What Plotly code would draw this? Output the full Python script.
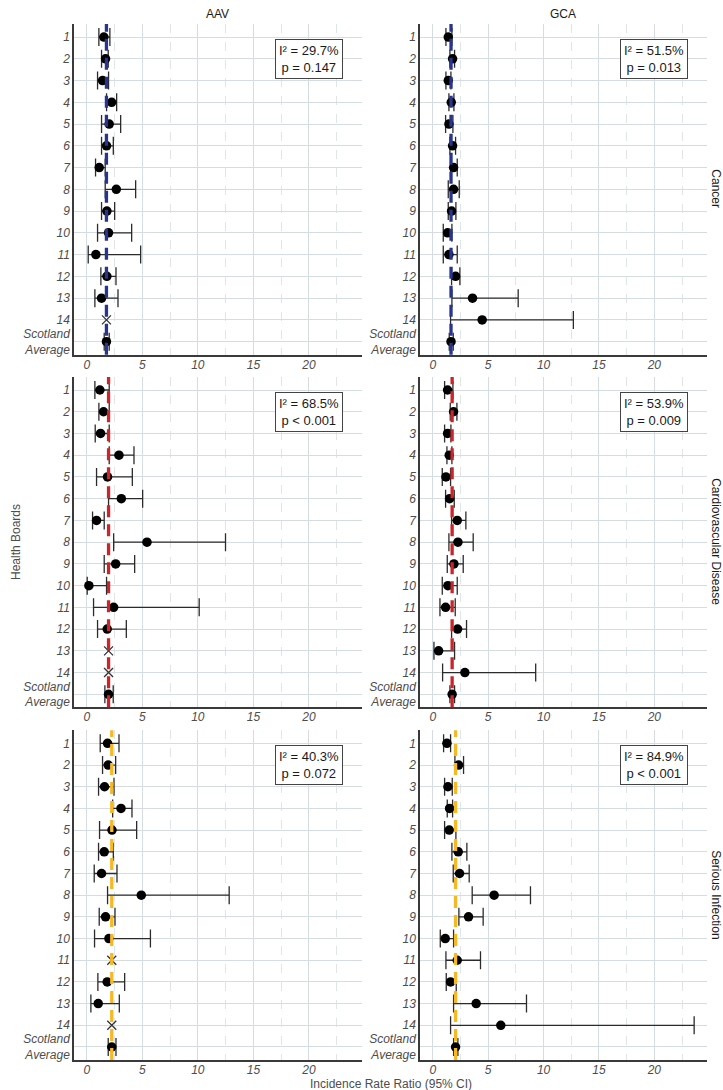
import plotly.graph_objects as go

# Health boards (rows) and the facets of the grid
boards = [str(i) for i in range(1, 15)] + ["Scotland<br>Average"]
diseases = ["AAV", "GCA"]
outcomes = ["Cancer", "Cardiovascular Disease", "Serious Infection"]
outcome_colors = ["#28358c", "#c9252c", "#f6b824"]

# Incidence rate ratios with 95% CI per health board; the last entry is the
# Scotland average. None marks boards without an estimate.
aav_cancer_irr = [1.54, 1.69, 1.42, 2.24, 2.02, 1.78, 1.12, 2.66, 1.81, 1.96, 0.82, 1.81, 1.33, None, 1.77]
aav_cancer_lo = [1.09, 1.33, 0.97, 1.78, 1.33, 1.33, 0.79, 1.66, 1.33, 0.97, 0.13, 1.27, 0.73, None, 1.57]
aav_cancer_hi = [2.08, 1.93, 1.96, 2.69, 3.05, 2.39, 1.66, 4.40, 2.51, 4.04, 4.85, 2.63, 2.81, None, 2.02]

gca_cancer_irr = [1.40, 1.79, 1.40, 1.67, 1.46, 1.79, 1.88, 1.88, 1.70, 1.34, 1.46, 2.06, 3.59, 4.46, 1.65]
gca_cancer_lo = [1.19, 1.55, 1.19, 1.46, 1.16, 1.55, 1.61, 1.40, 1.40, 0.95, 0.95, 1.70, 1.73, 1.61, 1.49]
gca_cancer_hi = [1.73, 1.97, 1.64, 1.91, 1.82, 2.06, 2.21, 2.39, 2.09, 1.73, 2.21, 2.45, 7.71, 12.69, 1.85]

aav_cvd_irr = [1.18, 1.51, 1.24, 2.90, 1.87, 3.11, 0.88, 5.42, 2.60, 0.19, 2.42, 1.84, None, None, 1.96]
aav_cvd_lo = [0.73, 1.09, 0.76, 2.02, 0.88, 1.96, 0.52, 2.42, 1.57, 0.04, 0.61, 0.97, None, None, 1.63]
aav_cvd_hi = [2.02, 2.02, 2.02, 4.25, 4.10, 5.03, 1.57, 12.49, 4.31, 1.78, 10.12, 3.56, None, None, 2.38]

gca_cvd_irr = [1.34, 1.88, 1.34, 1.49, 1.19, 1.52, 2.21, 2.27, 1.91, 1.37, 1.16, 2.24, 0.53, 2.90, 1.75]
gca_cvd_lo = [1.07, 1.58, 1.07, 1.28, 0.86, 1.16, 1.70, 1.46, 1.31, 0.86, 0.65, 1.70, 0.11, 0.89, 1.55]
gca_cvd_hi = [1.82, 2.18, 1.64, 1.73, 1.61, 1.94, 2.99, 3.65, 2.75, 2.21, 2.03, 3.05, 1.97, 9.29, 1.97]

aav_inf_irr = [1.87, 1.93, 1.60, 3.08, 2.27, 1.57, 1.33, 4.91, 1.69, 1.99, None, 1.84, 1.03, None, 2.25]
aav_inf_lo = [1.21, 1.42, 1.06, 2.33, 1.15, 1.06, 0.67, 1.87, 1.12, 0.70, None, 1.00, 0.37, None, 1.93]
aav_inf_hi = [2.90, 2.60, 2.45, 4.07, 4.49, 2.39, 2.72, 12.82, 2.54, 5.73, None, 3.41, 2.93, None, 2.63]

gca_inf_irr = [1.28, 2.33, 1.37, 1.52, 1.49, 2.30, 2.42, 5.54, 3.23, 1.13, 2.21, 1.61, 3.92, 6.14, 2.06]
gca_inf_lo = [0.98, 2.00, 1.07, 1.31, 1.07, 1.73, 1.85, 3.56, 2.36, 0.68, 1.19, 1.22, 1.88, 1.61, 1.88]
gca_inf_hi = [1.61, 2.78, 1.76, 1.79, 2.09, 3.08, 3.29, 8.82, 4.55, 1.88, 4.31, 2.12, 8.46, 23.59, 2.27]

# Heterogeneity statistics per panel
i2_values = [["29.7%", "51.5%"], ["68.5%", "53.9%"], ["40.3%", "84.9%"]]
p_values = [["p = 0.147", "p = 0.013"], ["p < 0.001", "p = 0.009"], ["p = 0.072", "p < 0.001"]]

panels = [
    [(aav_cancer_irr, aav_cancer_lo, aav_cancer_hi), (gca_cancer_irr, gca_cancer_lo, gca_cancer_hi)],
    [(aav_cvd_irr, aav_cvd_lo, aav_cvd_hi), (gca_cvd_irr, gca_cvd_lo, gca_cvd_hi)],
    [(aav_inf_irr, aav_inf_lo, aav_inf_hi), (gca_inf_irr, gca_inf_lo, gca_inf_hi)],
]

FONT = "Liberation Sans, Arial, sans-serif"
GRID = "#d5dce2"
MINOR_GRID = "#e0e5ea"
AXIS_LINE = "#3a3a3a"
TICK_COLOR = "#4d4d4d"

col_domains = [[0.0, 0.4545], [0.5466, 1.0]]
row_domains = [[0.6808, 1.0], [0.3404, 0.6593], [0.0, 0.3182]]
x_range = [-1.15, 24.75]
y_pos = list(range(len(boards)))

fig = go.Figure()
layout = {}
annotations = []
shapes = []

for r, outcome in enumerate(outcomes):
    color = outcome_colors[r]
    for c, disease in enumerate(diseases):
        idx = r * 2 + c + 1
        sfx = "" if idx == 1 else str(idx)
        xref, yref = "x" + sfx, "y" + sfx
        irr, lo, hi = panels[r][c]
        pooled = irr[-1]

        # boards with an estimate: point with 95% CI
        xs, ys, plus, minus = [], [], [], []
        # boards without an estimate: cross at the pooled value
        mx, my = [], []
        for i, v in enumerate(irr):
            if v is None:
                mx.append(pooled)
                my.append(y_pos[i])
            else:
                xs.append(v)
                ys.append(y_pos[i])
                plus.append(hi[i] - v)
                minus.append(v - lo[i])

        fig.add_trace(go.Scatter(
            x=xs, y=ys, mode="markers", xaxis=xref, yaxis=yref,
            marker=dict(size=9.5, color="black"),
            error_x=dict(type="data", symmetric=False, array=plus, arrayminus=minus,
                         color="#2b2b2b", thickness=1.3, width=9),
            showlegend=False, hoverinfo="skip",
        ))
        if mx:
            fig.add_trace(go.Scatter(
                x=mx, y=my, mode="markers", xaxis=xref, yaxis=yref,
                marker=dict(symbol="x-thin", size=9, line=dict(color="#333333", width=1.3)),
                showlegend=False, hoverinfo="skip",
            ))

        # pooled estimate reference line
        shapes.append(dict(
            type="line", xref=xref, yref=yref + " domain",
            x0=pooled, x1=pooled, y0=0, y1=1, layer="above",
            line=dict(color=color, width=3.3, dash="12px,7px"),
        ))

        layout["xaxis" + sfx] = dict(
            domain=col_domains[c], anchor=yref, range=x_range,
            tick0=0, dtick=5, showgrid=True, gridcolor=GRID, gridwidth=1.2,
            minor=dict(tick0=0, dtick=2.5, showgrid=True, gridcolor=MINOR_GRID,
                       griddash="dash", gridwidth=1),
            zeroline=False, showline=True, linecolor=AXIS_LINE, linewidth=1.5,
            ticks="", ticklabelstandoff=-2,
            tickfont=dict(family=FONT, size=12, color=TICK_COLOR, style="italic"),
        )
        layout["yaxis" + sfx] = dict(
            domain=row_domains[r], anchor=xref, range=[14.6, -0.6],
            tickmode="array", tickvals=y_pos, ticktext=boards,
            showgrid=True, gridcolor=GRID, gridwidth=1.2, zeroline=False,
            showline=True, linecolor=AXIS_LINE, linewidth=1.5, ticks="",
            tickfont=dict(family=FONT, size=12, color=TICK_COLOR, style="italic"),
        )

        # heterogeneity label
        annotations.append(dict(
            xref=xref, yref=yref, x=20, y=1, showarrow=False,
            text=f"I² = {i2_values[r][c]}<br>{p_values[r][c]}",
            font=dict(family=FONT, size=13, color="#1a1a1a"),
            bgcolor="white", bordercolor="#444444", borderwidth=1, borderpad=3,
            align="center",
        ))

# facet strip labels
for c, disease in enumerate(diseases):
    annotations.append(dict(
        xref="paper", yref="paper", x=sum(col_domains[c]) / 2, y=1.0097,
        text=disease, showarrow=False, xanchor="center", yanchor="middle",
        font=dict(family=FONT, size=12, color="#1a1a1a"),
    ))
for r, outcome in enumerate(outcomes):
    annotations.append(dict(
        xref="paper", yref="paper", x=1.0142, y=sum(row_domains[r]) / 2,
        text=outcome, showarrow=False, textangle=90, xanchor="center", yanchor="middle",
        font=dict(family=FONT, size=12, color="#1a1a1a"),
    ))

# axis titles
annotations.append(dict(
    xref="paper", yref="paper", x=0.5, y=-0.0235, text="Incidence Rate Ratio (95% CI)",
    showarrow=False, xanchor="center", yanchor="middle",
    font=dict(family=FONT, size=12, color="#4d4d4d"),
))
annotations.append(dict(
    xref="paper", yref="paper", x=-0.0916, y=0.5, text="Health Boards",
    showarrow=False, textangle=-90, xanchor="center", yanchor="middle",
    font=dict(family=FONT, size=12, color="#4d4d4d"),
))

fig.update_layout(
    width=723, height=1090,
    margin=dict(l=74, r=16, t=24, b=30),
    paper_bgcolor="white", plot_bgcolor="white",
    font=dict(family=FONT, size=12, color="#333333"),
    showlegend=False,
    annotations=annotations, shapes=shapes,
    **layout,
)

fig.write_html("out.html")
